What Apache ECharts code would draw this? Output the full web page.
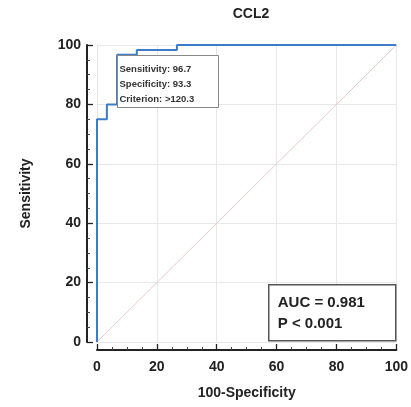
<!DOCTYPE html>
<html><head><meta charset="utf-8">
<script src="https://cdn.jsdelivr.net/npm/echarts@6/dist/echarts.min.js"></script>
<style>html,body{margin:0;padding:0;background:#fff}#c{width:411px;height:407px}</style>
</head><body><div id="c"></div>
<script>
const titleText = 'CCL2';
const rocX = [0, 0, 3.3, 3.3, 6.7, 6.7, 13.3, 13.3, 26.7, 26.7, 100];
const rocY = [0, 75, 75, 80, 80, 96.7, 96.7, 98.3, 98.3, 100, 100];
const diagX = [0, 100];
const diagY = [0, 100];
const criterionLines = ['Sensitivity: 96.7', 'Specificity: 93.3', 'Criterion: >120.3'];
const statLines = ['AUC = 0.981', 'P < 0.001'];
const xName = '100-Specificity';
const yName = 'Sensitivity';

const chart = echarts.init(document.getElementById('c'));
const FF = 'Liberation Sans, Arial';
const axisCommon = {
  type: 'value', min: 0, max: 100, interval: 20,
  axisLine: { show: true, onZero: false, lineStyle: { color: '#222', width: 2 } },
  axisTick: { show: true, inside: true, length: 6, lineStyle: { color: '#222', width: 1.3 } },
  minorTick: { show: true, splitNumber: 4, length: 3, lineStyle: { color: '#444' } },
  splitLine: { show: true, lineStyle: { color: '#e8e8e8', width: 1 } },
  axisLabel: { color: '#222', fontWeight: 'bold', fontSize: 14, fontFamily: FF },
  nameTextStyle: { color: '#222', fontWeight: 'bold', fontSize: 14, fontFamily: FF },
  nameLocation: 'middle'
};
chart.setOption({
  animation: false,
  title: { text: titleText, left: 246, top: 2, textAlign: 'center',
    textStyle: { fontSize: 14, fontWeight: 'bold', color: '#222', fontFamily: FF } },
  grid: { left: 97, right: 14, top: 45, bottom: 65 },
  xAxis: Object.assign({}, axisCommon, { offset: 8, name: xName, nameGap: 36,
    axisLabel: Object.assign({}, axisCommon.axisLabel, { margin: 10 }) }),
  yAxis: Object.assign({}, axisCommon, { offset: 10, name: yName, nameGap: 54,
    axisLabel: Object.assign({}, axisCommon.axisLabel, { margin: 6 }) }),
  series: [
    { type: 'line', data: diagX.map((x, i) => [x, diagY[i]]), symbol: 'none',
      lineStyle: { color: '#e9c9c9', width: 1 }, silent: true, z: 1 },
    { type: 'line', data: rocX.map((x, i) => [x, rocY[i]]), symbol: 'none',
      lineStyle: { color: '#3c7cc8', width: 2 }, z: 3 }
  ],
  graphic: [
    { type: 'group', left: 117, top: 55, z: 100, children: [
      { type: 'rect', z: 100, shape: { x: 0, y: 0, width: 101, height: 52 },
        style: { fill: '#fff', stroke: '#888', lineWidth: 1 } },
      { type: 'text', z: 101, x: 2, y: 6, style: { text: criterionLines.join('\n'), lineHeight: 15,
        font: 'bold 9.5px Liberation Sans, Arial', fill: '#333' } }
    ]},
    { type: 'group', left: 268, top: 284, z: 100, children: [
      { type: 'rect', z: 100, shape: { x: 0, y: 0, width: 127, height: 56 },
        style: { fill: '#fff', stroke: '#555', lineWidth: 1.5 } },
      { type: 'text', z: 101, x: 9, y: 8, style: { text: statLines.join('\n'), lineHeight: 21,
        font: 'bold 15px Liberation Sans, Arial', fill: '#222' } }
    ]}
  ]
});
</script></body></html>
